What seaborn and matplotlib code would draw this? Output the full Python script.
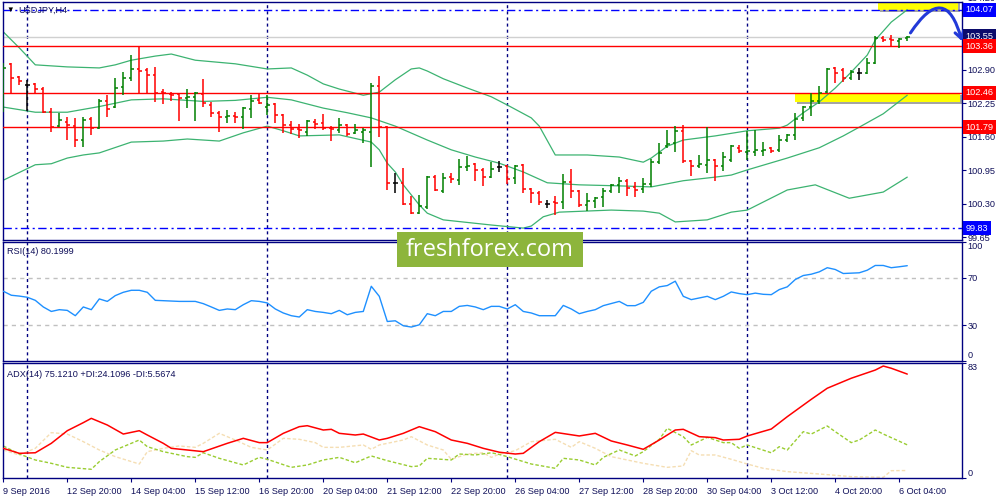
import numpy as np
import pandas as pd
import matplotlib
matplotlib.use("Agg")
import matplotlib.pyplot as plt
import matplotlib.transforms as mtransforms
from matplotlib.patches import Rectangle, FancyArrowPatch
import seaborn as sns

# ---------------- data ----------------
x_labels = ["9 Sep 2016", "12 Sep 20:00", "14 Sep 04:00", "15 Sep 12:00", "16 Sep 20:00",
            "20 Sep 04:00", "21 Sep 12:00", "22 Sep 20:00", "26 Sep 04:00", "27 Sep 12:00",
            "28 Sep 20:00", "30 Sep 04:00", "3 Oct 12:00", "4 Oct 20:00", "6 Oct 04:00"]
x_label_bars = [0, 8, 16, 24, 32, 40, 48, 56, 64, 72, 80, 88, 96, 104, 112]
separator_bars = [3, 33, 63, 93]

opens = [102.32, 103.02, 102.76, 102.61, 102.63, 102.53, 102.08, 101.81, 101.89, 101.81,
         101.54, 101.95, 101.77, 102.30, 102.18, 102.57, 102.74, 102.92, 102.90, 102.80,
         102.47, 102.43, 102.43, 102.36, 102.38, 102.43, 102.22, 102.07, 101.99, 102.01,
         101.99, 102.14, 102.32, 102.18, 102.24, 102.03, 101.83, 101.75, 101.70, 101.89,
         101.87, 101.77, 101.74, 101.83, 101.68, 101.70, 101.70, 102.59, 101.79, 100.71,
         100.71, 100.30, 100.12, 100.24, 100.82, 100.55, 100.82, 100.76, 101.02, 101.08,
         100.96, 100.82, 101.02, 101.04, 100.80, 101.06, 100.59, 100.51, 100.30, 100.34,
         100.34, 100.73, 100.55, 100.28, 100.36, 100.43, 100.55, 100.67, 100.75, 100.63,
         100.59, 100.69, 101.11, 101.42, 101.48, 101.72, 101.13, 101.04, 101.06, 101.15,
         101.04, 101.15, 101.39, 101.31, 101.31, 101.33, 101.39, 101.35, 101.54, 101.64,
         101.97, 102.18, 102.30, 102.47, 102.94, 102.90, 102.74, 102.84, 102.84, 103.04,
         103.52, 103.50, 103.46, 103.52]
highs = [103.04, 103.04, 102.78, 102.71, 102.65, 102.57, 102.16, 102.07, 101.99, 101.97,
         101.99, 101.98, 102.33, 102.41, 102.74, 102.86, 103.19, 103.37, 102.94, 102.96,
         102.53, 102.47, 102.45, 102.53, 102.47, 102.73, 102.28, 102.10, 102.12, 102.08,
         102.18, 102.41, 102.45, 102.41, 102.25, 102.05, 101.91, 101.85, 101.93, 101.95,
         102.05, 101.81, 101.97, 101.85, 101.85, 101.77, 102.65, 102.78, 101.81, 100.90,
         101.00, 100.45, 100.47, 100.84, 100.86, 100.90, 100.90, 101.17, 101.23, 101.09,
         101.00, 101.11, 101.13, 101.06, 101.06, 101.08, 100.61, 100.55, 100.38, 100.45,
         100.88, 100.98, 100.57, 100.51, 100.43, 100.61, 100.69, 100.82, 100.78, 100.73,
         100.80, 101.17, 101.48, 101.74, 101.81, 101.83, 101.15, 101.25, 101.79, 101.17,
         101.31, 101.44, 101.44, 101.72, 101.74, 101.50, 101.41, 101.64, 101.66, 102.07,
         102.20, 102.45, 102.59, 102.94, 102.96, 102.94, 102.90, 102.94, 103.13, 103.56,
         103.56, 103.58, 103.52, 103.56]
lows = [102.08, 102.45, 102.61, 102.10, 102.45, 102.07, 101.70, 101.79, 101.54, 101.41,
        101.40, 101.64, 101.75, 101.99, 102.16, 102.41, 102.69, 102.45, 102.45, 102.28,
        102.24, 102.30, 101.91, 102.16, 101.91, 102.18, 101.99, 101.70, 101.87, 101.87,
        101.75, 101.97, 102.24, 102.03, 101.87, 101.68, 101.66, 101.58, 101.62, 101.75,
        101.74, 101.52, 101.68, 101.62, 101.66, 101.48, 101.02, 101.60, 100.57, 100.51,
        100.28, 100.10, 100.11, 100.20, 100.55, 100.51, 100.71, 100.67, 100.94, 100.75,
        100.65, 100.80, 100.92, 100.69, 100.69, 100.51, 100.32, 100.28, 100.22, 100.08,
        100.20, 100.41, 100.24, 100.16, 100.22, 100.24, 100.51, 100.51, 100.45, 100.43,
        100.51, 100.63, 101.07, 101.39, 101.31, 101.09, 100.84, 101.00, 100.90, 100.75,
        100.94, 101.11, 101.29, 101.15, 101.23, 101.23, 101.29, 101.31, 101.50, 101.54,
        101.91, 102.01, 102.24, 102.45, 102.65, 102.67, 102.71, 102.71, 102.82, 103.02,
        103.44, 103.37, 103.33, 103.46]
closes = [102.94, 102.74, 102.69, 102.61, 102.53, 102.08, 101.79, 101.93, 101.83, 101.54,
          101.93, 101.77, 102.30, 102.14, 102.55, 102.74, 102.92, 102.88, 102.80, 102.45,
          102.45, 102.41, 102.36, 102.38, 102.45, 102.26, 102.07, 101.99, 102.01, 101.99,
          102.16, 102.30, 102.26, 102.22, 102.03, 101.83, 101.75, 101.74, 101.91, 101.85,
          101.77, 101.75, 101.83, 101.66, 101.74, 101.74, 102.59, 101.79, 100.71, 100.71,
          100.30, 100.12, 100.26, 100.82, 100.57, 100.80, 100.78, 101.02, 101.04, 100.96,
          100.82, 100.98, 101.02, 100.78, 101.04, 100.59, 100.51, 100.34, 100.30, 100.32,
          100.73, 100.55, 100.28, 100.36, 100.41, 100.55, 100.67, 100.75, 100.61, 100.57,
          100.69, 101.11, 101.29, 101.46, 101.72, 101.13, 101.04, 101.08, 101.15, 101.04,
          101.21, 101.42, 101.33, 101.33, 101.35, 101.35, 101.33, 101.54, 101.64, 101.95,
          102.18, 102.30, 102.45, 102.92, 102.84, 102.74, 102.86, 102.84, 103.04, 103.52,
          103.48, 103.48, 103.50, 103.54]

bb_up_x = [0, 2, 4, 8, 12, 14, 16, 19, 21, 24, 29, 33, 36, 38, 40, 42, 45, 47, 48, 49, 51, 52, 53,
           55, 58, 61, 63, 66, 67, 69, 73, 77, 80, 81, 83, 85, 89, 93, 97, 98, 100, 102, 104,
           106, 108, 109, 111, 113]
bb_up = [103.64, 103.33, 103.00, 102.96, 102.94, 103.00, 103.09, 103.17, 103.21, 103.09, 103.02,
         102.92, 102.94, 102.80, 102.63, 102.53, 102.41, 102.47, 102.59, 102.71, 102.92, 102.94,
         102.88, 102.73, 102.55, 102.38, 102.22, 101.97, 101.81, 101.25, 101.25, 101.21, 101.11,
         101.19, 101.42, 101.54, 101.62, 101.72, 101.77, 101.83, 102.07, 102.28, 102.55, 102.86,
         103.19, 103.48, 103.83, 104.07]
bb_mid_x = [0, 4, 8, 12, 16, 20, 25, 29, 31, 33, 36, 40, 43, 46, 49, 53, 56, 59, 62, 65, 68, 72,
            77, 81, 85, 89, 91, 93, 98, 102, 105, 107, 110, 113]
bb_mid = [102.18, 102.08, 102.08, 102.19, 102.32, 102.34, 102.29, 102.31, 102.34, 102.37, 102.32,
          102.16, 102.07, 101.97, 101.81, 101.54, 101.35, 101.21, 101.09, 100.92, 100.71, 100.67,
          100.65, 100.63, 100.75, 100.82, 100.86, 100.96, 101.19, 101.39, 101.62, 101.79, 102.05,
          102.41]
bb_low_x = [0, 4, 6, 8, 10, 12, 16, 20, 23, 27, 30, 33, 35, 37, 42, 46, 47, 48, 49, 50, 52, 53,
            55, 61, 65, 66, 67.5, 69.5, 76, 80, 82, 84, 88, 91, 93, 98, 101.5, 105.75, 110, 113]
bb_low = [100.76, 101.06, 101.08, 101.19, 101.25, 101.29, 101.50, 101.52, 101.56, 101.52, 101.68,
          101.81, 101.72, 101.62, 101.64, 101.50, 101.35, 101.09, 100.92, 100.67, 100.28, 100.12,
          99.99, 99.89, 99.83, 99.87, 100.05, 100.14, 100.18, 100.16, 100.12, 99.95, 99.99, 100.14,
          100.18, 100.57, 100.67, 100.41, 100.53, 100.82]

rsi = [58.6, 55.2, 54.5, 53.5, 50.9, 45.3, 41.5, 43.0, 42.4, 37.9,
       45.3, 43.0, 52.1, 50.0, 54.9, 57.7, 59.4, 59.4, 57.7, 50.9,
       50.6, 50.3, 50.0, 50.0, 50.0, 48.1, 45.3, 42.4, 43.6, 43.0,
       47.2, 50.6, 50.0, 48.7, 43.6, 40.2, 37.9, 36.8, 43.0, 41.5,
       40.7, 39.6, 42.4, 38.7, 40.7, 41.5, 62.8, 54.3, 33.0, 33.6,
       29.4, 28.3, 30.2, 39.6, 37.9, 41.5, 41.5, 45.8, 46.6, 45.3,
       43.0, 45.8, 45.8, 43.6, 47.2, 41.5, 40.2, 37.9, 37.9, 37.9,
       46.6, 43.6, 39.6, 41.5, 43.0, 46.4, 48.2, 50.0, 46.4, 46.4,
       49.2, 58.6, 62.3, 63.4, 67.1, 54.3, 51.5, 52.9, 54.3, 51.5,
       54.3, 58.0, 56.6, 55.7, 57.0, 56.0, 55.7, 60.0, 62.3, 68.5,
       71.9, 73.0, 75.0, 78.5, 77.0, 73.6, 73.9, 74.2, 76.4, 80.4,
       80.4, 78.5, 79.3, 80.2]

adx_x = [0, 2, 4, 6, 8, 10, 11, 13, 15, 17, 18, 20, 21, 23, 25, 28, 30, 32, 33, 35, 37, 38, 40, 41,
         42, 44, 45, 47, 48, 50, 52, 54, 56, 58, 60, 62, 64, 65, 67, 69, 72, 74, 76, 78, 80, 82,
         84, 85, 87, 89, 90, 92, 93, 96, 98, 101, 103, 106, 109, 110, 111, 113]
adx = [21.6, 18.0, 18.4, 25.2, 34.3, 40.1, 43.2, 38.4, 31.9, 34.3, 31.2, 25.2, 21.6, 20.4, 19.2,
       25.2, 28.8, 25.7, 25.7, 32.4, 37.2, 37.9, 34.8, 35.3, 32.4, 31.2, 31.9, 27.6, 28.8, 32.4,
       37.2, 33.6, 27.6, 25.2, 21.6, 18.8, 17.5, 18.0, 26.4, 33.1, 30.5, 32.4, 26.9, 24.0, 20.9,
       27.6, 34.8, 35.3, 30.0, 29.3, 27.6, 28.1, 30.5, 35.5, 44.4, 56.9, 64.9, 72.1, 78.0, 80.9,
       79.3, 75.1]
pdi_x = [0, 2, 4, 6, 8, 11, 12, 14, 17, 18, 20, 21, 23, 24, 25, 27, 30, 32, 33, 36, 38, 40, 42,
         44, 46, 48, 51, 52, 53, 56, 57, 59, 61, 62, 63, 66, 69, 70, 72, 74, 75, 77, 79, 80, 82,
         83, 85, 86, 88, 90, 91, 92, 93, 96, 97, 98, 100, 101, 103, 104, 106, 107, 109, 110, 113]
pdi = [23.3, 17.5, 13.2, 10.8, 7.9, 6.5, 12.0, 20.4, 27.6, 22.8, 19.2, 18.0, 15.6, 15.1, 18.4,
       14.4, 9.6, 15.1, 13.7, 7.9, 9.6, 13.2, 15.1, 11.2, 16.1, 12.7, 8.4, 8.9, 14.4, 13.2, 17.5,
       16.8, 18.4, 17.2, 15.6, 10.3, 7.2, 14.4, 13.2, 9.6, 15.1, 20.4, 16.1, 19.2, 28.1, 36.0,
       30.0, 24.0, 29.5, 25.7, 25.7, 21.6, 24.0, 18.4, 22.8, 20.4, 33.6, 31.9, 37.7, 33.6, 25.7,
       27.6, 34.8, 31.9, 24.1]
mdi_x = [0, 2, 4, 6, 8, 10, 12, 14, 17, 18, 20, 22, 24, 25, 27, 29, 31, 33, 35, 37, 39, 40, 42,
         45, 46, 47, 50, 51, 53, 55, 56, 58, 60, 61, 62, 64, 66, 69, 71, 72, 74, 76, 78, 80, 83,
         85, 86, 87, 89, 91, 93, 95, 98, 102, 106, 110, 111, 113]
mdi = [20.4, 16.8, 21.6, 32.9, 31.9, 26.4, 20.4, 15.6, 10.3, 19.2, 21.6, 23.3, 22.3, 25.2, 32.4,
       27.6, 22.3, 20.4, 28.8, 28.1, 25.7, 22.3, 22.3, 24.0, 20.9, 24.0, 27.6, 30.0, 24.0, 20.4,
       13.7, 17.5, 18.4, 15.1, 17.4, 19.9, 26.4, 28.1, 22.3, 26.4, 21.6, 15.6, 13.2, 10.8, 7.9,
       8.9, 19.9, 16.8, 16.8, 13.7, 10.3, 7.2, 4.8, 3.1, 1.2, 0.7, 5.5, 5.6]

price_ticks = [99.65, 100.30, 100.95, 101.60, 102.25, 102.90, 103.55, 104.20]
red_levels = [103.36, 102.46, 101.79]
blue_levels = [104.07, 99.83]
bid_price = 103.55

# ---------------- styling ----------------
sns.set_style("white")
plt.rcParams['font.family'] = ['Liberation Sans', 'DejaVu Sans']
NAVY = '#000080'
TXT = '#10105a'
FS = 6.6

W, H = 1000, 500
fig = plt.figure(figsize=(10, 5), dpi=100)
fig.patch.set_facecolor('white')


def px_axes(l, t, r, b):
    return fig.add_axes([l / W, 1 - b / H, (r - l) / W, (b - t) / H])


ax = px_axes(2.7, 1.7, 961.5, 240)
ax_rsi = px_axes(2.7, 242.3, 961.5, 360.5)
ax_adx = px_axes(2.7, 362.7, 961.5, 478.3)
XL = (-0.075, 119.78)

for a in (ax, ax_rsi, ax_adx):
    a.set_xlim(*XL)
    for s in a.spines.values():
        s.set_color(NAVY)
        s.set_linewidth(1.0)
    a.yaxis.tick_right()
    a.tick_params(axis='y', direction='out', length=3, width=0.8, color=NAVY,
                  labelsize=FS, labelcolor=TXT, pad=1.5, right=True, left=False)
    for b in separator_bars:
        a.axvline(b, color=NAVY, lw=1.0, linestyle=(0, (2.2, 2.2)), zorder=1)

# ---------------- main price panel ----------------
idx = np.arange(len(closes))
o = np.array(opens); h = np.array(highs); l = np.array(lows); c = np.array(closes)
cols = np.where(c > o, '#008000', np.where(c < o, '#ff0000', '#000000'))

ax.set_ylim(99.599, 104.226)

# yellow zones with shadow
ax.add_patch(Rectangle((99.25, 102.284 - 0.035), 20.6, 0.163, fc='#5a5a5a', ec='none', alpha=0.55, zorder=1.5))
ax.add_patch(Rectangle((98.96, 102.284), 20.6, 0.163, fc='#ffff00', ec='none', zorder=1.6))
ax.add_patch(Rectangle((109.55, 104.065 - 0.035), 10.1, 0.3, fc='#5a5a5a', ec='none', alpha=0.55, zorder=1.5))
ax.add_patch(Rectangle((109.3, 104.065), 10.1, 0.3, fc='#ffff00', ec='none', zorder=1.6))

ax.axhline(bid_price, color='#d0d0d0', lw=1.0, zorder=2)
for lv in red_levels:
    ax.axhline(lv, color='#ff0000', lw=1.0, zorder=3)
for lv in blue_levels:
    ax.axhline(lv, color='#0000ff', lw=1.0, linestyle=(0, (6, 2.5, 1.5, 2.5)), zorder=3)

bb = pd.DataFrame({'x': bb_up_x, 'y': bb_up})
sns.lineplot(data=bb, x='x', y='y', ax=ax, color='#3cb371', lw=0.9, zorder=2.5)
bb = pd.DataFrame({'x': bb_mid_x, 'y': bb_mid})
sns.lineplot(data=bb, x='x', y='y', ax=ax, color='#3cb371', lw=0.9, zorder=2.5)
bb = pd.DataFrame({'x': bb_low_x, 'y': bb_low})
sns.lineplot(data=bb, x='x', y='y', ax=ax, color='#3cb371', lw=0.9, zorder=2.5)

ax.vlines(idx, l, h, colors=cols, lw=1.1, zorder=4)
ax.hlines(o, idx - 0.32, idx, colors=cols, lw=1.1, zorder=4)
ax.hlines(c, idx, idx + 0.32, colors=cols, lw=1.1, zorder=4)

ax.set_xticks([])
ax.set_yticks(price_ticks)
# the bid price label is drawn as a boxed label below, so its plain tick label stays empty
ax.set_yticklabels(['' if abs(p - bid_price) < 1e-9 else f'{p:.2f}' for p in price_ticks])
ax.get_yticklabels()[-1].set_va('bottom')
ax.set_xlabel('')
ax.set_ylabel('')

off = mtransforms.offset_copy(ax.get_yaxis_transform(), fig=fig, x=4.0, y=0, units='dots')
box_labels = [(104.07, '#0000ff'), (bid_price, '#0b0b6b'), (103.36, '#ff0000'),
              (102.46, '#ff0000'), (101.79, '#ff0000'), (99.83, '#0000ff')]
for p, fc in box_labels:
    ax.text(1.0, p, f'{p:.2f}', transform=off, ha='left', va='center', color='white',
            fontsize=FS, clip_on=False, zorder=20,
            bbox=dict(boxstyle='square,pad=0.28', fc=fc, ec='none'))

arrow = FancyArrowPatch(posA=(113.4, 103.62), posB=(119.84, 103.46),
                        connectionstyle='arc3,rad=-1.1',
                        arrowstyle='->,head_length=5,head_width=3.2',
                        color='#2239d8', lw=2.2, shrinkA=0, shrinkB=0,
                        transform=ax.transData, clip_on=False, zorder=15)
ax.add_patch(arrow)

fig.text(6 / W, 1 - 10 / H, '\u25bc', fontsize=5.5, color='black', va='center', ha='left')
fig.text(18 / W, 1 - 10 / H, 'USDJPY,H4', fontsize=FS, color=TXT, va='center', ha='left')

# ---------------- RSI panel ----------------
rsi_df = pd.DataFrame({'x': idx, 'y': rsi})
sns.lineplot(data=rsi_df, x='x', y='y', ax=ax_rsi, color='#1e90ff', lw=1.0, zorder=3)
ax_rsi.set_ylim(0, 100)
for lv in (70, 30):
    ax_rsi.axhline(lv, color='#c0c0c0', lw=1.0, linestyle=(0, (3, 3)), zorder=1)
ax_rsi.set_xticks([])
ax_rsi.set_yticks([0, 30, 70, 100])
ax_rsi.set_yticklabels(['0', '30', '70', '100'])
tl = ax_rsi.get_yticklabels()
tl[0].set_va('bottom')
tl[3].set_va('top')
ax_rsi.set_xlabel('')
ax_rsi.set_ylabel('')
ax_rsi.text(0.004, 0.92, 'RSI(14) 80.1999', transform=ax_rsi.transAxes, fontsize=FS, color=TXT,
            va='center', ha='left')

# ---------------- ADX panel ----------------
ADX_TOP = 83.3
sns.lineplot(data=pd.DataFrame({'x': mdi_x, 'y': mdi}), x='x', y='y', ax=ax_adx,
             color='#f5deb3', lw=1.0, linestyle=(0, (2.5, 1.5)), zorder=2)
sns.lineplot(data=pd.DataFrame({'x': pdi_x, 'y': pdi}), x='x', y='y', ax=ax_adx,
             color='#9acd32', lw=1.0, linestyle=(0, (2.5, 1.5)), zorder=2.5)
sns.lineplot(data=pd.DataFrame({'x': adx_x, 'y': adx}), x='x', y='y', ax=ax_adx,
             color='#ff0000', lw=1.1, zorder=3)
ax_adx.set_ylim(0, ADX_TOP)
ax_adx.set_yticks([0, ADX_TOP])
ax_adx.set_yticklabels(['0', '83'])
tl = ax_adx.get_yticklabels()
tl[0].set_va('bottom')
tl[1].set_va('top')
ax_adx.set_xticks(x_label_bars)
ax_adx.set_xticklabels(x_labels)
ax_adx.tick_params(axis='x', direction='out', length=3, width=0.8, color=NAVY,
                   labelsize=FS, labelcolor=TXT, pad=3, bottom=True)
for t in ax_adx.get_xticklabels():
    t.set_ha('left')
ax_adx.set_xlabel('')
ax_adx.set_ylabel('')
ax_adx.text(0.005, 0.9, 'ADX(14) 75.1210 +DI:24.1096 -DI:5.5674', transform=ax_adx.transAxes,
            fontsize=FS, color=TXT, va='center', ha='left')

# ---------------- watermark ----------------
fig.patches.append(Rectangle((397 / W, 1 - 267 / H), 186 / W, 35 / H, transform=fig.transFigure,
                             fc='#8db53c', ec='none', zorder=30))
fig.text(490 / W, 1 - 256.5 / H, 'freshforex.com', fontsize=17, color='white', ha='center',
         va='baseline', family=['Open Sans', 'DejaVu Sans'], zorder=31)

fig.savefig('out.png', dpi=100)
